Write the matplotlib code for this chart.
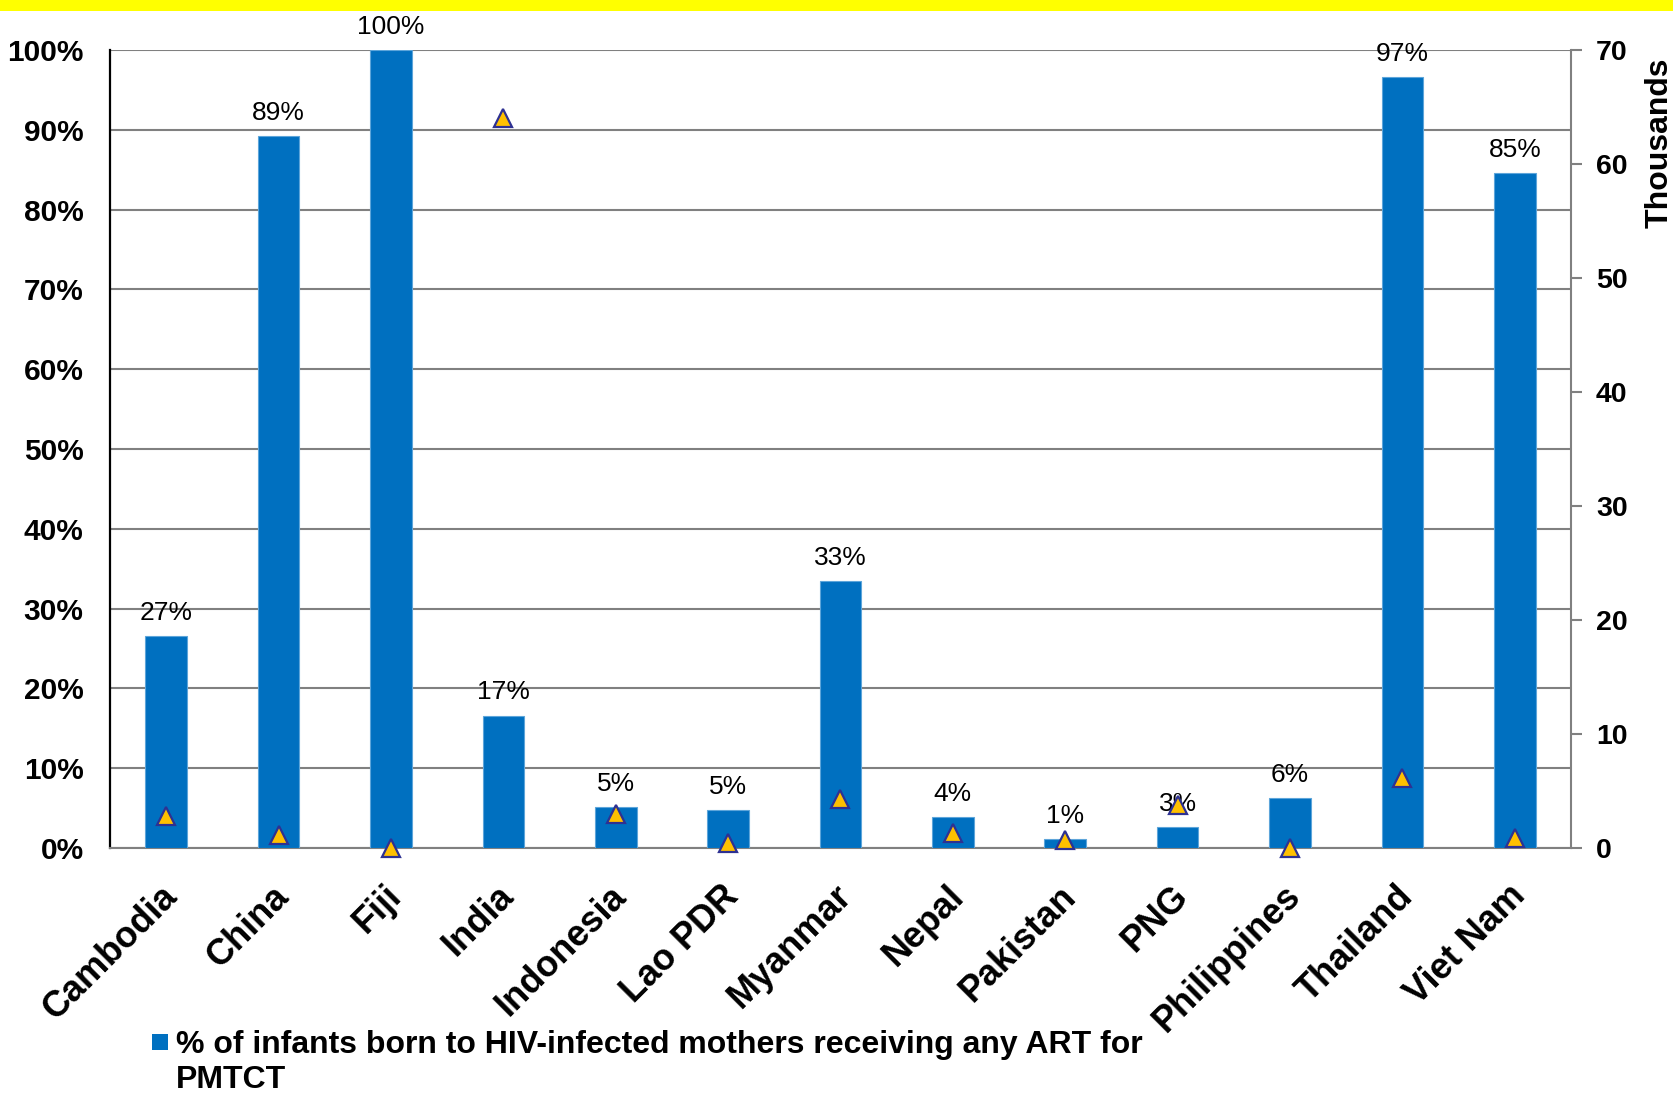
import matplotlib
matplotlib.use("Agg")
import matplotlib.pyplot as plt
from matplotlib.patches import Rectangle
from matplotlib.ticker import FuncFormatter, MultipleLocator
from matplotlib.transforms import ScaledTranslation

countries = ["Cambodia", "China", "Fiji", "India", "Indonesia", "Lao PDR", "Myanmar",
             "Nepal", "Pakistan", "PNG", "Philippines", "Thailand", "Viet Nam"]
# % of infants born to HIV-infected mothers receiving any ART for PMTCT
art_pct = [26.6, 89.2, 100.0, 16.6, 5.1, 4.8, 33.4, 3.9, 1.1, 2.6, 6.3, 96.6, 84.6]
# HIV-infected pregnant women (thousands), right axis
hiv_thousands = [2.8, 1.1, 0.0, 64.0, 3.0, 0.4, 4.3, 1.35, 0.7, 3.8, 0.0, 6.1, 0.9]
legend_label = "% of infants born to HIV-infected mothers receiving any ART for\nPMTCT"

plt.rcParams["font.family"] = ["Liberation Sans", "DejaVu Sans"]

W, H = 1673, 1093
fig = plt.figure(figsize=(W / 100, H / 100), dpi=100)
ax = fig.add_axes([110 / W, 1 - 848 / H, (1571 - 110) / W, (848 - 50) / H])

# yellow band across the top
fig.patches.append(Rectangle((0, 1 - 11 / H), 1, 11 / H, transform=fig.transFigure,
                             facecolor="#FFFF00", edgecolor="none", zorder=0))

bar_color = "#0070C0"
x = list(range(len(countries)))
bars = ax.bar(x, art_pct, width=0.37, color=bar_color, edgecolor="#5DA5DA",
              linewidth=0.8, zorder=3)

for xi, v in zip(x, art_pct):
    ax.annotate(f"{v:.0f}%", (xi, v), xytext=(0, 8), textcoords="offset points",
                ha="center", va="bottom", fontsize=19, color="black", zorder=6,
                annotation_clip=False)

ax.set_xlim(-0.5, len(countries) - 0.5)
ax.set_ylim(0, 100)
ax.yaxis.set_major_locator(MultipleLocator(10))
ax.yaxis.set_major_formatter(FuncFormatter(lambda v, p: f"{v:.0f}%"))
ax.grid(axis="y", color="#808080", linewidth=1.5, zorder=1)
ax.set_axisbelow(True)
ax.tick_params(axis="y", length=0, pad=19, labelsize=21.5)
for lab in ax.get_yticklabels():
    lab.set_fontweight("bold")

ax.set_xticks(x)
ax.set_xticklabels(countries, rotation=45, ha="right", rotation_mode="anchor",
                   fontsize=26, fontweight="bold")
ax.tick_params(axis="x", length=0, pad=22)
shift = ScaledTranslation(-5 / 72, 0, fig.dpi_scale_trans)
for lab in ax.get_xticklabels():
    lab.set_transform(lab.get_transform() + shift)

ax.spines["top"].set_visible(False)
ax.spines["right"].set_visible(False)
ax.spines["left"].set_color("black")
ax.spines["left"].set_linewidth(1.6)
ax.spines["bottom"].set_color("#808080")
ax.spines["bottom"].set_linewidth(1.5)

ax2 = ax.twinx()
ax2.set_ylim(0, 70)
ax2.yaxis.set_major_locator(MultipleLocator(10))
ax2.plot(x, hiv_thousands, linestyle="none", marker="^", markersize=13.5,
         markerfacecolor="#FFC000", markeredgecolor="#2E3192", markeredgewidth=1.6,
         zorder=5, clip_on=False)
ax2.tick_params(axis="y", direction="out", length=8, width=1.5, color="#808080",
                labelsize=20.5, pad=10)
for lab in ax2.get_yticklabels():
    lab.set_fontweight("bold")
for s in ["top", "left", "bottom"]:
    ax2.spines[s].set_visible(False)
ax2.spines["right"].set_color("#808080")
ax2.spines["right"].set_linewidth(1.5)
ax2.set_ylabel("Thousands", fontsize=23, fontweight="bold", labelpad=12, loc="top")
ax2.yaxis.label.set_y(0.99)

# legend: swatch beside the first line of a two-line label
fig.patches.append(Rectangle((152 / W, 1 - 1050 / H), 16 / W, 16 / H,
                             transform=fig.transFigure, facecolor=bar_color,
                             edgecolor="none"))
fig.text(176 / W, 1 - 1030 / H, legend_label, ha="left", va="top", fontsize=23,
         fontweight="bold", linespacing=1.2)

fig.savefig("out.png", dpi=100)
